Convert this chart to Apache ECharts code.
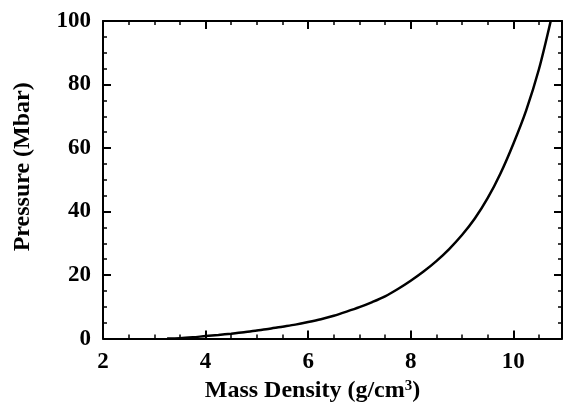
<!DOCTYPE html>
<html>
<head>
<meta charset="utf-8">
<script src="https://cdn.jsdelivr.net/npm/echarts@6/dist/echarts.min.js"></script>
<style>html,body{margin:0;padding:0;background:#fff;}#c{width:565px;height:408px;}</style>
</head>
<body>
<div id="c"></div>
<script>
const density = [3.25, 3.5, 3.75, 4.0, 4.25, 4.5, 4.75, 5.0, 5.25, 5.5, 5.75, 6.0, 6.25, 6.5, 6.75, 7.0, 7.25, 7.5, 7.75, 8.0, 8.25, 8.5, 8.75, 9.0, 9.25, 9.5, 9.75, 10.0, 10.25, 10.5, 10.73];
const pressure = [0, 0.1, 0.4, 0.8, 1.15, 1.55, 2.0, 2.55, 3.1, 3.75, 4.4, 5.2, 6.1, 7.2, 8.5, 9.9, 11.5, 13.3, 15.6, 18.2, 21.1, 24.4, 28.2, 32.6, 37.8, 44.2, 52.0, 61.3, 71.8, 84.8, 100];
const xTicks = [2, 4, 6, 8, 10];
const yTicks = [0, 20, 40, 60, 80, 100];

const font = 'Liberation Serif';
const axisCommon = {
  axisLine: { show: true, onZero: false, lineStyle: { color: '#000', width: 2 } },
  axisTick: { show: true, inside: true, length: 8, lineStyle: { color: '#000', width: 2 } },
  minorTick: { show: true, splitNumber: 4, length: 4, lineStyle: { color: '#000', width: 1.5 } },
  splitLine: { show: false }
};
const chart = echarts.init(document.getElementById('c'), null, { renderer: 'canvas' });
chart.setOption({
  animation: false,
  grid: { left: 103, right: 2, top: 21, bottom: 63 },
  xAxis: [
    Object.assign({}, axisCommon, {
      type: 'value', min: 2, max: 10.95, interval: 2, position: 'bottom',
      axisLabel: { margin: 12, color: '#000', fontFamily: font, fontWeight: 'bold', fontSize: 23,
        formatter: v => xTicks.includes(v) ? String(v) : '' },
      name: '{a|Mass Density (g/cm}{s|3}{a|)}',
      nameLocation: 'middle', nameGap: 36,
      nameTextStyle: { padding: [0, 40, 0, 0],
        rich: { a: { fontFamily: font, fontWeight: 'bold', fontSize: 24, color: '#000' },
                s: { fontFamily: font, fontWeight: 'bold', fontSize: 15, color: '#000', verticalAlign: 'top', padding: [0, 0, 10, 0] } } }
    }),
    Object.assign({}, axisCommon, {
      type: 'value', min: 2, max: 10.95, interval: 2, position: 'top',
      axisLabel: { show: false }
    })
  ],
  yAxis: [
    Object.assign({}, axisCommon, {
      type: 'value', min: 0, max: 100, interval: 20, position: 'left',
      axisLabel: { margin: 12, color: '#000', fontFamily: font, fontWeight: 'bold', fontSize: 23,
        formatter: v => yTicks.includes(v) ? String(v) : '' },
      name: 'Pressure (Mbar)', nameLocation: 'middle', nameGap: 68,
      nameTextStyle: { fontFamily: font, fontWeight: 'bold', fontSize: 24, color: '#000', padding: [0, 0, 0, 26] }
    }),
    Object.assign({}, axisCommon, {
      type: 'value', min: 0, max: 100, interval: 20, position: 'right',
      axisLabel: { show: false }
    })
  ],
  series: [{
    type: 'line', smooth: 0.3, showSymbol: false,
    xAxisIndex: 0, yAxisIndex: 0,
    data: density.map((d, i) => [d, pressure[i]]),
    lineStyle: { color: '#000', width: 2.5 },
    clip: true
  }]
});
</script>
</body>
</html>
